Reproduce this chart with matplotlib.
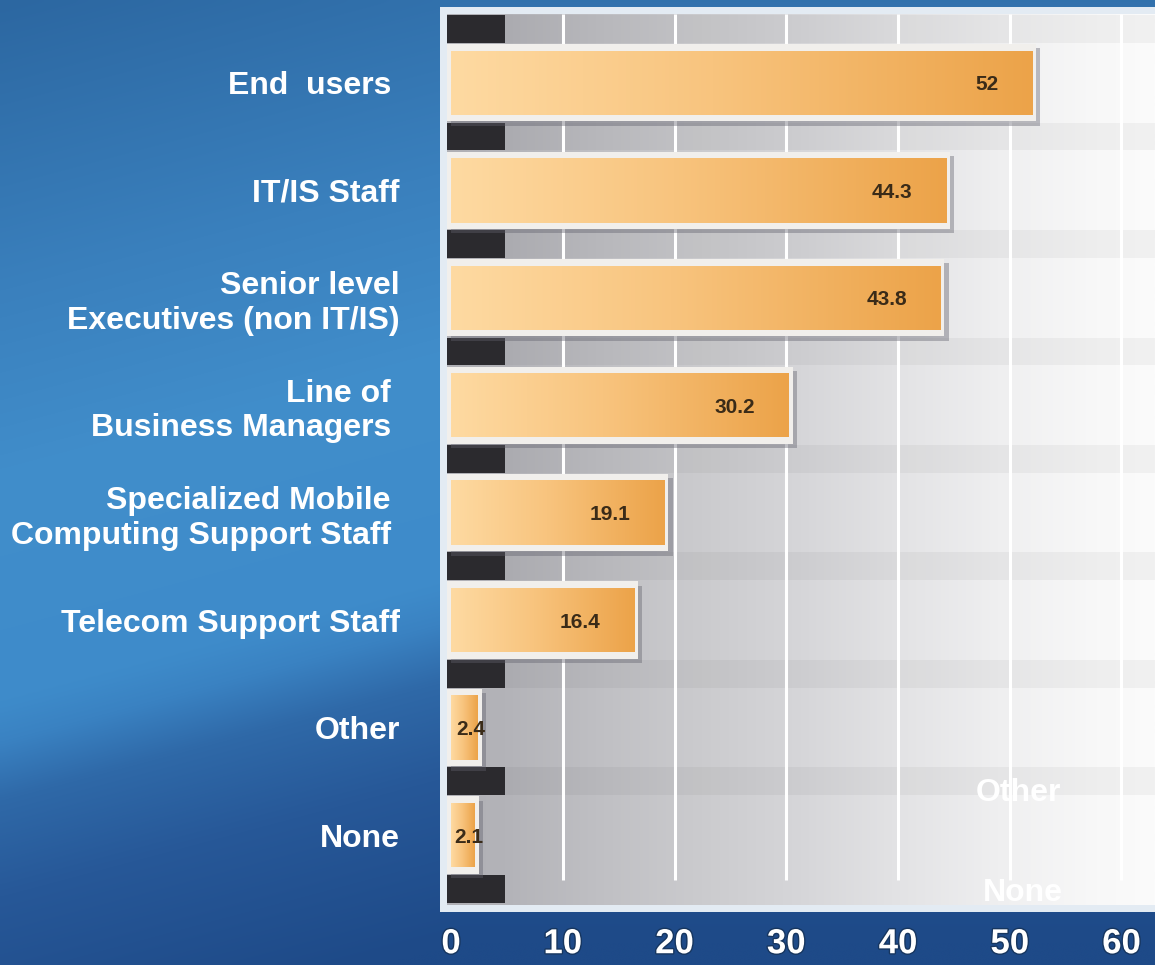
import numpy as np
import matplotlib
matplotlib.use("Agg")
import matplotlib.pyplot as plt
from matplotlib.colors import LinearSegmentedColormap, to_rgb
from matplotlib.patches import Rectangle
import matplotlib.patheffects as pe

plt.rcParams['font.family'] = ['Liberation Sans', 'DejaVu Sans']

# data
categories = ["End  users ", "IT/IS Staff", "Senior level\nExecutives (non IT/IS)",
              "Line of \nBusiness Managers ", "Specialized Mobile \nComputing Support Staff ",
              "Telecom Support Staff", "Other", "None"]
values = [52, 44.3, 43.8, 30.2, 19.1, 16.4, 2.4, 2.1]
value_labels = ["52", "44.3", "43.8", "30.2", "19.1", "16.4", "2.4", "2.1"]
x_ticks = [0, 10, 20, 30, 40, 50, 60]

fig = plt.figure(figsize=(11.55, 9.65), dpi=100)

# blue backdrop
bg = fig.add_axes([0, 0, 1, 1], zorder=-5)
bg.axis("off")
H, W = 240, 280
yy, xx = np.mgrid[0:1:H * 1j, 0:1:W * 1j]
s = yy + 0.32 * np.minimum(xx, 0.4)
stops = [0.0, 0.3, 0.5, 0.73, 0.77, 0.83, 0.93, 1.1]
cols = ["#2c67a1", "#3a80bd", "#418ecb", "#3e8bca", "#3a82c2",
        "#2f69a8", "#275898", "#1e4a88"]
rgb = np.array([to_rgb(c) for c in cols])
img = np.dstack([np.interp(s, stops, rgb[:, k]) for k in range(3)])
bg.imshow(img, extent=[0, 1, 0, 1], origin="upper", aspect="auto",
          interpolation="bicubic")
bg.set_xlim(0, 1)
bg.set_ylim(0, 1)

# light panel frame
fig.patches.append(Rectangle((440 / 1155, (965 - 912) / 965), 715 / 1155, 905 / 965,
                             transform=fig.transFigure, facecolor="#e3ebf3",
                             edgecolor="none", zorder=-4))

ax = fig.add_axes([447 / 1155, (965 - 905) / 965, 708 / 1155, 891 / 965])
ys = np.arange(len(values))
x0, x1 = -0.36, 63.0
y_top, y_bot = -0.64, 7.65

# grey plot background
gray_cmap = LinearSegmentedColormap.from_list(
    "g", [(0, "#b0b0b5"), (0.08, "#b3b3b8"), (0.22, "#c0c0c4"), (0.36, "#cbcbce"),
          (0.5, "#d6d6d9"), (0.64, "#e3e3e5"), (0.78, "#efeff0"), (0.92, "#f8f8f8"),
          (1, "#fbfbfb")])
ax.imshow(np.linspace(0, 1, 256).reshape(1, -1), cmap=gray_cmap,
          extent=[x0, x1, y_bot, y_top], aspect="auto", zorder=0)

# gridlines
ax.vlines(x_ticks[1:], y_top, 7.42, color="white", linewidth=2.2, zorder=1)

# gaps between bars
gaps = np.arange(-0.5, len(values) - 1, 1.0)
ax.barh(gaps, x1 - 4.8, left=4.8, height=0.26, color="black", alpha=0.04, zorder=0.6)
ax.barh(np.arange(-0.5, len(values), 1.0), 5.2, left=-0.4, height=0.26,
        color="#2b2a2e", zorder=1.5)

# white frames with drop shadow
frame_col = "#f1efec"
pad = 0.36
frames = ax.barh(ys, np.array(values) + 2 * pad, left=-pad, height=0.72,
                 color=frame_col, zorder=2)
for p in frames:
    p.set_path_effects([pe.SimplePatchShadow(offset=(3, -3), shadow_rgbFace="#60606c",
                                             alpha=0.4), pe.Normal()])

# orange gradient bars
inner = ax.barh(ys, values, height=0.6, facecolor="none", edgecolor="none", zorder=3)
orange = LinearSegmentedColormap.from_list(
    "o", [(0, "#fedaa2"), (0.45, "#f8c47e"), (1, "#eca349")])
grad = np.linspace(0, 1, 256).reshape(1, -1)
for p, y, v in zip(inner, ys, values):
    im = ax.imshow(grad, cmap=orange, extent=[0, v, y + 0.3, y - 0.3],
                   aspect="auto", zorder=3)
    im.set_clip_path(p)

for y, v, lab in zip(ys, values, value_labels):
    if v > 10:
        ax.text(v - 3, y + 0.02, lab, ha="right", va="center", fontsize=15,
                fontweight="bold", color="#3a2b18", zorder=5)
    else:
        ax.text(v * 0.75, y + 0.02, lab, ha="center", va="center", fontsize=15,
                fontweight="bold", color="#3a2b18", zorder=5)

# faint leftover labels
ax.text(50.8, 6.61, "Other", ha="center", va="center", fontsize=23,
        fontweight="bold", color="white", zorder=5)
ax.text(51.2, 7.54, "None", ha="center", va="center", fontsize=23,
        fontweight="bold", color="white", zorder=5)

ax.set_xticks(x_ticks)
ax.set_xticklabels([str(t) for t in x_ticks], fontsize=25, fontweight="bold",
                   color="white")
for t in ax.get_xticklabels():
    t.set_path_effects([pe.withStroke(linewidth=2, foreground="#17365f")])
ax.set_yticks(ys)
ax.set_yticklabels(categories, fontsize=23, fontweight="bold", color="white")
ax.tick_params(axis="both", length=0)
ax.tick_params(axis="x", pad=16)
ax.tick_params(axis="y", pad=34)

for sp in ax.spines.values():
    sp.set_visible(False)

ax.set_xlim(x0, x1)
ax.set_ylim(y_bot, y_top)

fig.savefig("out.png", dpi=100)
